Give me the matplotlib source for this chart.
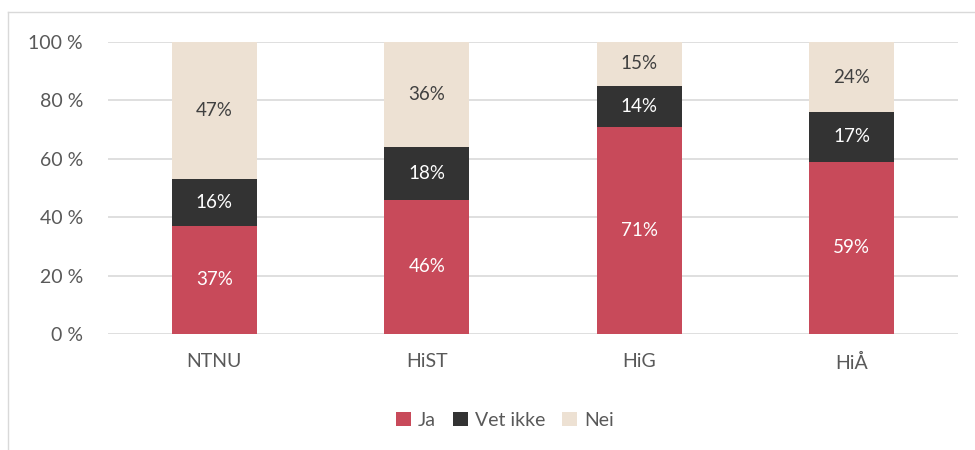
import numpy as np
import matplotlib
matplotlib.use("Agg")
import matplotlib.pyplot as plt
from matplotlib.lines import Line2D

plt.rcParams['font.family'] = ['Lato', 'DejaVu Sans']

# data
schools = ['NTNU', 'HiST', 'HiG', 'HiÅ']
ja = [37, 46, 71, 59]
vet_ikke = [16, 18, 14, 17]
nei = [47, 36, 15, 24]
labels = ['Ja', 'Vet ikke', 'Nei']
colors = ['#C84A5A', '#333333', '#EDE1D3']
text_colors = ['white', 'white', '#404040']

fig = plt.figure(figsize=(9.75, 4.5), dpi=100)
ax = fig.add_axes([0.1108, 0.2578, 0.8718, 0.6489])

x = np.arange(len(schools))
bottom = np.zeros(len(schools))
for vals, lab, col, tc in zip([ja, vet_ikke, nei], labels, colors, text_colors):
    vals = np.array(vals, dtype=float)
    ax.bar(x, vals, 0.4, bottom=bottom, color=col, label=lab, zorder=3)
    for xi, b, v in zip(x, bottom, vals):
        ax.text(xi, b + v / 2, f'{int(v)}%', ha='center', va='center',
                color=tc, fontsize=13.5, zorder=4)
    bottom += vals

ax.set_xlim(-0.5, 3.5)
ax.set_ylim(0, 100)
ax.set_yticks(np.arange(0, 101, 20))
ax.set_yticklabels([f'{t} %' for t in range(0, 101, 20)])
ax.set_xticks(x)
ax.set_xticklabels(schools)
ax.tick_params(axis='both', length=0, labelsize=14, colors='#595959')
ax.tick_params(axis='x', pad=14)
ax.tick_params(axis='y', pad=18)
ax.grid(axis='y', color='#D9D9D9', lw=1.2, zorder=0)
for s in ax.spines.values():
    s.set_visible(False)

ax.legend(loc='center', bbox_to_anchor=(0.467, -0.295), ncol=3, frameon=False,
          fontsize=14, handlelength=0.75, handleheight=0.75, handletextpad=0.35,
          columnspacing=0.9, labelcolor='#595959')

# outer chart frame (partially visible)
fig.add_artist(Line2D([8 / 975, 8 / 975], [0, 1 - 12 / 450], transform=fig.transFigure,
                      color='#D9D9D9', lw=1))
fig.add_artist(Line2D([8 / 975, 1], [1 - 12 / 450, 1 - 12 / 450], transform=fig.transFigure,
                      color='#D9D9D9', lw=1))

fig.savefig('out.png', dpi=100)
